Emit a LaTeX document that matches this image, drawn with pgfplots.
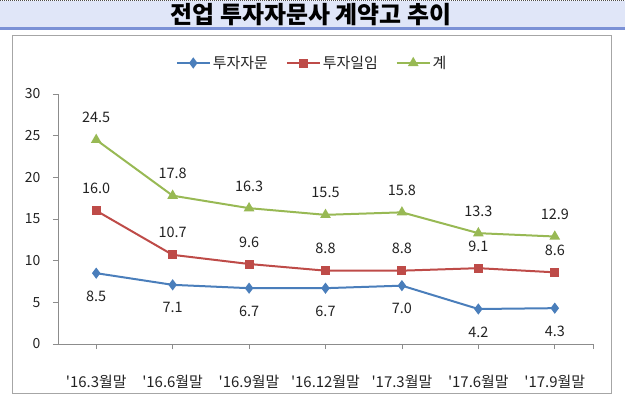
\documentclass[border=0pt]{standalone}
\usepackage{fontspec}
\setmainfont{Noto Sans CJK KR}
\usepackage{pgfplots}
\pgfplotsset{compat=1.18}
\definecolor{sblue}{HTML}{4A7EBB}
\definecolor{sred}{HTML}{BE4B48}
\definecolor{sgreen}{HTML}{98B954}
\definecolor{band}{HTML}{E0E6F8}
\definecolor{bandline}{HTML}{7B91D6}
\definecolor{boxgray}{HTML}{A6A6A6}
\definecolor{axgray}{HTML}{8C8C8C}
\definecolor{txt}{HTML}{222222}
\newcommand{\q}{\textquotesingle}
\begin{document}
\begin{tikzpicture}
\useasboundingbox (0,0) rectangle (625bp,-398bp);
\fill[band] (0,-1bp) rectangle (625bp,-28bp);
\draw[black!70, densely dotted, line width=1bp] (0,-0.5bp) -- (625bp,-0.5bp);
\draw[bandline, line width=2.5bp] (0,-28.5bp) -- (625bp,-28.5bp);
\node[font=\fontsize{24}{26}\selectfont\bfseries, text=black] at (311bp,-15bp) {전업 투자자문사 계약고 추이};
\draw[boxgray, line width=1.5bp] (12.5bp,-35.5bp) rectangle (611.5bp,-393.5bp);
\begin{axis}[
  at={(58bp,-344bp)}, anchor=south west,
  scale only axis, width=535bp, height=250bp,
  xmin=-0.5, xmax=6.5, ymin=0, ymax=30,
  axis x line=bottom, axis y line=left,
  axis line style={draw=axgray, line width=0.8bp, -},
  tick align=outside,
  ytick={0,5,...,30},
  xtick={0,...,6},
  xticklabels={\q16.3월말,\q16.6월말,\q16.9월말,\q16.12월말,\q17.3월말,\q17.6월말,\q17.9월말},
  extra x ticks={6.5}, extra x tick labels={},
  extra x tick style={tick style={draw=axgray, line width=0.8bp}},
  tick style={draw=axgray, line width=0.8bp},
  major tick length=5bp,
  /pgf/number format/assume math mode=true,
  yticklabel style={font=\fontsize{14}{16}\selectfont, text=txt, xshift=-9bp},
  xticklabel style={font=\fontsize{15}{17}\selectfont, text=txt, anchor=center, yshift=-33bp},
  nodes near coords,
  nodes near coords style={font=\fontsize{14.5}{16}\selectfont, text=txt, anchor=center,
     /pgf/number format/fixed, /pgf/number format/fixed zerofill, /pgf/number format/precision=1},
  legend columns=3,
  legend style={draw=none, fill=none, at={(axis description cs:0.475,1.124)}, anchor=center,
     font=\fontsize{15}{17}\selectfont, text=txt,
     /tikz/every even column/.append style={column sep=16bp}},
  legend image code/.code={\draw[mark repeat=2, mark phase=2] plot coordinates {(0bp,0bp) (16.5bp,0bp) (33bp,0bp)};},
]
\addplot[sblue, line width=2bp, mark=diamond*, mark size=4bp, mark options={solid},
  every node near coord/.append style={yshift=-23bp}]
  coordinates {(0,8.5) (1,7.1) (2,6.7) (3,6.7) (4,7.0) (5,4.2) (6,4.3)};
\addlegendentry{투자자문}
\addplot[sred, line width=2bp, mark=square*, mark size=3.5bp, mark options={solid},
  every node near coord/.append style={yshift=22bp}]
  coordinates {(0,16.0) (1,10.7) (2,9.6) (3,8.8) (4,8.8) (5,9.1) (6,8.6)};
\addlegendentry{투자일임}
\addplot[sgreen, line width=2bp, mark=triangle*, mark size=4.2bp, mark options={solid},
  every node near coord/.append style={yshift=22bp}]
  coordinates {(0,24.5) (1,17.8) (2,16.3) (3,15.5) (4,15.8) (5,13.3) (6,12.9)};
\addlegendentry{계}
\end{axis}
\end{tikzpicture}
\end{document}
